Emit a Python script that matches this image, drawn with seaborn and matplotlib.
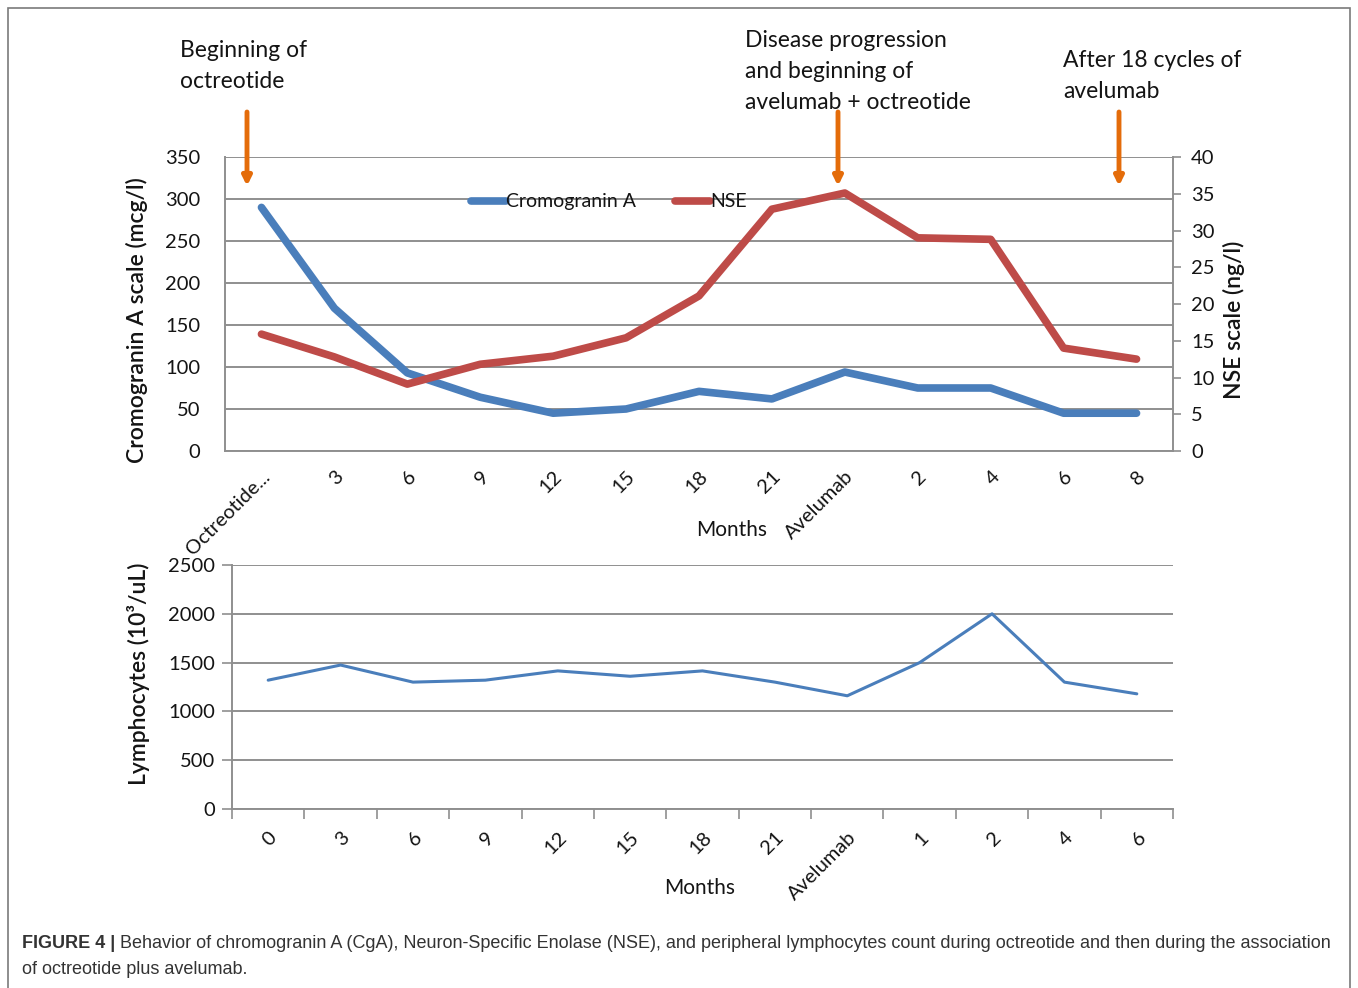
import numpy as np
import pandas as pd
import seaborn as sns
import matplotlib.pyplot as plt
from matplotlib.patches import Rectangle

# Datos del gráfico superior (CgA en eje izquierdo, NSE en eje derecho)
top_labels = ["Octreotide...", "3", "6", "9", "12", "15", "18", "21",
              "Avelumab", "2", "4", "6", "8"]
cga = [290, 170, 93, 64, 45, 50, 71, 62, 94, 75, 75, 45, 45]
nse = [15.9, 12.8, 9.1, 11.8, 12.9, 15.4, 21.1, 32.9, 35.1, 29.0, 28.8, 14.0, 12.5]

# Datos del gráfico inferior (linfocitos)
bottom_labels = ["0", "3", "6", "9", "12", "15", "18", "21",
                 "Avelumab", "1", "2", "4", "6"]
lymph = [1320, 1475, 1300, 1320, 1415, 1360, 1415, 1300, 1160, 1500, 2000, 1300, 1180]

W, H = 1358, 988
BLUE = "#4a7ebb"
RED = "#be4b48"
ORANGE = "#e46c0a"
GRID = "#8f8f8f"
TXT = "#141414"

sns.set_theme(style="white")
plt.rcParams["font.family"] = ["Lato", "DejaVu Sans"]
plt.rcParams["text.color"] = TXT
plt.rcParams["xtick.color"] = TXT
plt.rcParams["ytick.color"] = TXT


def fig_box(x0, y0, x1, y1):
    # caja en pixeles de imagen (origen arriba) -> fraccion de figura
    return [x0 / W, 1 - y1 / H, (x1 - x0) / W, (y1 - y0) / H]


fig = plt.figure(figsize=(W / 100, H / 100), dpi=100)

# ---------------- grafico superior ----------------
top_df = pd.DataFrame({"pos": np.arange(len(top_labels)), "cga": cga, "nse": nse})

ax1 = fig.add_axes(fig_box(225, 157, 1173, 451))
sns.lineplot(data=top_df, x="pos", y="cga", ax=ax1, color=BLUE, lw=5.5,
             label="Cromogranin A", legend=False)
ax2 = ax1.twinx()
sns.lineplot(data=top_df, x="pos", y="nse", ax=ax2, color=RED, lw=5.5,
             label="NSE", legend=False)

ax1.set_xlim(-0.5, len(top_labels) - 0.5)
ax1.set_ylim(0, 350)
ax1.set_yticks(np.arange(0, 351, 50))
ax2.set_ylim(0, 40)
ax2.set_yticks(np.arange(0, 41, 5))
ax1.set_axisbelow(True)
ax1.yaxis.grid(True, color=GRID, lw=1.4)
ax1.xaxis.grid(False)

ax1.set_xticks(top_df["pos"])
ax1.set_xticklabels(top_labels, rotation=45, ha="right", rotation_mode="anchor")
ax1.tick_params(axis="x", length=0, pad=12, labelsize=14.5)
ax1.tick_params(axis="y", length=0, pad=18, labelsize=14.5)
ax2.tick_params(axis="y", length=6, width=1.2, color=GRID, pad=7, labelsize=14.5)
ax1.set_xlabel("")
ax1.set_ylabel("")
ax2.set_ylabel("")

for name, sp in ax1.spines.items():
    sp.set_visible(name in ("left", "bottom"))
    sp.set_color(GRID)
    sp.set_linewidth(1.4)
for name, sp in ax2.spines.items():
    sp.set_visible(name == "right")
    sp.set_color(GRID)
    sp.set_linewidth(1.4)

h1, l1 = ax1.get_legend_handles_labels()
h2, l2 = ax2.get_legend_handles_labels()
ax2.legend(h1 + h2, l1 + l2, ncol=2, loc="center", bbox_to_anchor=(0.405, 0.847),
           frameon=False, handlelength=1.8, handletextpad=0.0, columnspacing=2.0,
           fontsize=14)

fig.text(137 / W, 1 - 320 / H, "Cromogranin A scale (mcg/l)", rotation=90,
         ha="center", va="center", fontsize=16.5, fontweight="semibold")
fig.text(1234 / W, 1 - 320 / H, "NSE scale (ng/l)", rotation=90,
         ha="center", va="center", fontsize=16.5, fontweight="semibold")
fig.text(732 / W, 1 - 530 / H, "Months", ha="center", va="center", fontsize=15)

# ---------------- grafico inferior ----------------
bot_df = pd.DataFrame({"pos": np.arange(len(bottom_labels)), "lymph": lymph})

ax3 = fig.add_axes(fig_box(232, 565, 1173, 809))
sns.lineplot(data=bot_df, x="pos", y="lymph", ax=ax3, color=BLUE, lw=2.2)
ax3.set_xlim(-0.5, len(bottom_labels) - 0.5)
ax3.set_ylim(0, 2500)
ax3.set_yticks(np.arange(0, 2501, 500))
ax3.set_axisbelow(True)
ax3.yaxis.grid(True, color=GRID, lw=1.4)
ax3.set_xticks(np.arange(-0.5, len(bottom_labels)))
ax3.set_xticklabels([])
ax3.set_xticks(bot_df["pos"], minor=True)
ax3.set_xticklabels(bottom_labels, minor=True, rotation=45, ha="right",
                    rotation_mode="anchor")
ax3.tick_params(axis="x", which="major", length=7, width=1.2, color=GRID,
                direction="out", bottom=True)
ax3.tick_params(axis="x", which="minor", length=0, pad=14, labelsize=14.5, bottom=True)
ax3.tick_params(axis="y", length=7, width=1.2, color=GRID, direction="out",
                left=True, pad=5, labelsize=14.5)
ax3.set_xlabel("")
ax3.set_ylabel("")
for name, sp in ax3.spines.items():
    sp.set_visible(name in ("left", "bottom"))
    sp.set_color(GRID)
    sp.set_linewidth(1.4)

fig.text(138 / W, 1 - 674 / H, "Lymphocytes (10³/uL)", rotation=90,
         ha="center", va="center", fontsize=16.5, fontweight="semibold")
fig.text(700 / W, 1 - 888 / H, "Months", ha="center", va="center", fontsize=15)

# ---------------- anotaciones y flechas ----------------
ann_style = dict(fontsize=16.5, ha="left", va="top", linespacing=1.58)
fig.text(180 / W, 1 - 40 / H, "Beginning of\noctreotide", **ann_style)
fig.text(745 / W, 1 - 30 / H, "Disease progression\nand beginning of\navelumab + octreotide",
         **ann_style)
fig.text(1063 / W, 1 - 50 / H, "After 18 cycles of\navelumab", **ann_style)

for ax_x in (247, 838, 1119):
    fig.add_artist(plt.Annotation(
        "", xy=(ax_x / W, 1 - 186 / H), xytext=(ax_x / W, 1 - 112 / H),
        xycoords="figure fraction", textcoords="figure fraction",
        arrowprops=dict(arrowstyle="-|>", color=ORANGE, lw=3.5,
                        mutation_scale=13, shrinkA=0, shrinkB=0)))

# ---------------- pie de figura ----------------
cap_font = ["Liberation Sans Narrow", "Liberation Sans", "DejaVu Sans"]
bold = fig.text(22 / W, 1 - 943 / H, "FIGURE 4 |", fontsize=13, fontweight="bold",
                family=cap_font, va="center", color="#333333")
fig.canvas.draw()
bb = bold.get_window_extent()
fig.text((bb.x1 + 5) / W, 1 - 943 / H,
         "Behavior of chromogranin A (CgA), Neuron-Specific Enolase (NSE), and peripheral "
         "lymphocytes count during octreotide and then during the association",
         fontsize=13, family=cap_font, va="center", color="#333333")
fig.text(22 / W, 1 - 969 / H, "of octreotide plus avelumab.", fontsize=13,
         family=cap_font, va="center", color="#333333")

# marco exterior
fig.patches.append(Rectangle((8 / W, -0.01), (1350 - 8) / W, 1 - 8 / H + 0.01,
                             transform=fig.transFigure, fill=False,
                             ec="#7a7a7a", lw=1.2))

fig.savefig("out.png", dpi=100)
